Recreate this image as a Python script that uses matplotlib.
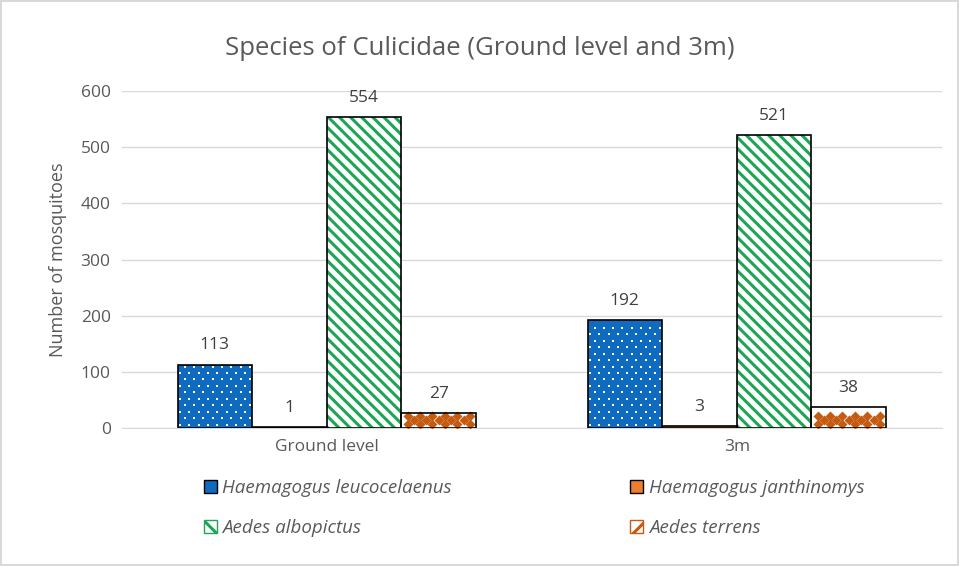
import numpy as np
import matplotlib.pyplot as plt
from matplotlib.patches import Patch

# Data
groups = ['Ground level', '3m']
species = ['Haemagogus leucocelaenus', 'Haemagogus janthinomys', 'Aedes albopictus', 'Aedes terrens']
counts = {
  'Haemagogus leucocelaenus': [113, 192],
  'Haemagogus janthinomys': [1, 3],
  'Aedes albopictus': [554, 521],
  'Aedes terrens': [27, 38],
}
yticks = [0, 100, 200, 300, 400, 500, 600]

blue = '#0F6BC0'
orange = '#ED7D31'
green = '#1DA556'
brown = '#C55A11'
txt = '#595959'

plt.rcParams['font.family'] = ['Open Sans', 'DejaVu Sans']
plt.rcParams['hatch.linewidth'] = 2.2

fig = plt.figure(figsize=(9.59, 5.66), dpi=100)
fig.patch.set_edgecolor('#D9D9D9')
fig.patch.set_linewidth(1.5)
ax = fig.add_axes([0.127, 0.2438, 0.855, 0.5952])

x = np.arange(len(groups))
w = 0.182


# ----------------------------------------------------------------
# Blue bars with a lattice of tiny white dots
# ----------------------------------------------------------------
def dotted_bars(pos, vals):
  ax.bar(pos, vals, w, color=blue, linewidth=0, zorder=2)
  for p, v in zip(pos, vals):
    nx = 8
    xs = np.linspace(p - w / 2, p + w / 2, nx + 1)[:-1] + w / (4 * nx)
    rows = np.arange(6, v - 2, 11.5)
    for i, r in enumerate(rows):
      xx = xs if i % 2 == 0 else xs + w / (2 * nx)
      xx = xx[xx < p + w / 2 - 0.004]
      ax.scatter(xx, np.full_like(xx, r), marker='s', s=2.5, color='white', zorder=3, linewidths=0)


# ----------------------------------------------------------------
# White bars with orange diamond motif
# ----------------------------------------------------------------
def diamond_bars(pos, vals):
  ax.bar(pos, vals, w, color='white', linewidth=0, zorder=2)
  for p, v in zip(pos, vals):
    xs = np.linspace(p - w / 2 + w / 12, p + w / 2 - w / 12, 6)
    rows = np.arange(7, v - 3, 14)
    for i, r in enumerate(rows):
      ax.scatter(xs, np.full_like(xs, r), marker='D', s=26, color=brown, zorder=3, linewidths=0)
      if i + 1 < len(rows):
        mid = (xs[:-1] + xs[1:]) / 2
        ax.scatter(mid, np.full_like(mid, r + 7), marker='D', s=26, color=brown, zorder=3, linewidths=0)


for k, sp in enumerate(species):
  pos = x + (k - 1.5) * w
  vals = counts[sp]
  if k == 0:
    dotted_bars(pos, vals)
  elif k == 1:
    ax.bar(pos, vals, w, color=orange, linewidth=0, zorder=2)
  elif k == 2:
    ax.bar(pos, vals, w, color='white', edgecolor=green, hatch='\\\\\\', linewidth=0, zorder=2)
  else:
    diamond_bars(pos, vals)
  ax.bar(pos, vals, w, color='none', edgecolor='black', linewidth=1.2, zorder=4)
  for p, v in zip(pos, vals):
    ax.annotate(str(v), (p, v), xytext=(0, 8), textcoords='offset points',
                ha='center', va='bottom', fontsize=12.5, color='#404040')

# Legend handles (row-wise order in a 2-column legend)
h0 = Patch(facecolor=blue, edgecolor='black', label=species[0])
h1 = Patch(facecolor=orange, edgecolor='black', label=species[1])
h2 = Patch(facecolor='white', edgecolor=green, hatch='\\\\', label=species[2])
h3 = Patch(facecolor='white', edgecolor=brown, hatch='//', label=species[3])

ax.set_xlim(-0.5, 1.5)
ax.set_ylim(0, 600)
ax.set_yticks(yticks)
ax.set_xticks(x)
ax.set_xticklabels(groups)
ax.grid(axis='y', color='#D9D9D9', linewidth=1, zorder=0)
ax.set_axisbelow(True)
for s in ['top', 'right', 'left']:
  ax.spines[s].set_visible(False)
ax.spines['bottom'].set_color('#D9D9D9')
ax.tick_params(length=0, labelsize=12.5, colors=txt, pad=8)
ax.set_ylabel('Number of mosquitoes', fontsize=13, color=txt, labelpad=10)
fig.text(0.50, 0.914, 'Species of Culicidae (Ground level and 3m)', ha='center', va='center',
         fontsize=18.5, color=txt)

leg = fig.legend(handles=[h0, h2, h1, h3], loc='center', bbox_to_anchor=(0.557, 0.102), ncol=2,
                 frameon=False, fontsize=13.5, handlelength=0.7, handleheight=0.7,
                 handletextpad=0.3, columnspacing=9.5, labelspacing=1.15)
for t in leg.get_texts():
  t.set_style('italic')
  t.set_color(txt)

fig.savefig('out.png', dpi=100)
